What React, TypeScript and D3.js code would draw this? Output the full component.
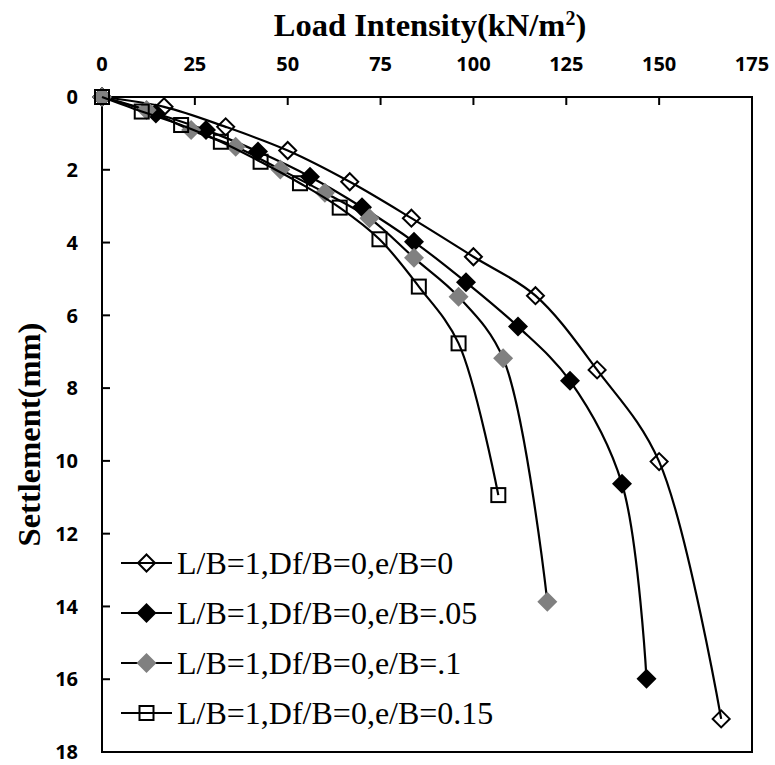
import React from 'react';
import * as d3 from 'd3';

const xTicks = [0, 25, 50, 75, 100, 125, 150, 175];
const yTicks = [0, 2, 4, 6, 8, 10, 12, 14, 16, 18];

const load1 = [0, 16.7, 33.3, 50, 66.7, 83.3, 100, 116.7, 133.3, 150, 166.7];
const settle1 = [0, 0.27, 0.82, 1.47, 2.33, 3.33, 4.39, 5.46, 7.5, 10.02, 17.09];
const load2 = [0, 14.5, 28, 42, 56, 70, 84, 98, 112, 126, 140, 146.6];
const settle2 = [0, 0.45, 0.91, 1.5, 2.19, 3.03, 3.98, 5.09, 6.31, 7.8, 10.63, 15.99];
const load3 = [0, 12, 24, 36, 48, 60, 72, 84, 96, 108, 119.9];
const settle3 = [0, 0.36, 0.91, 1.37, 1.99, 2.63, 3.33, 4.42, 5.49, 7.18, 13.87];
const load4 = [0, 10.7, 21.3, 32, 42.7, 53.3, 64, 74.7, 85.3, 96, 106.7];
const settle4 = [0, 0.4, 0.77, 1.23, 1.78, 2.37, 3.04, 3.91, 5.21, 6.77, 10.94];

const seriesNames = [
  'L/B=1,Df/B=0,e/B=0',
  'L/B=1,Df/B=0,e/B=.05',
  'L/B=1,Df/B=0,e/B=.1',
  'L/B=1,Df/B=0,e/B=0.15',
];

const markerTypes = ['openDiamond', 'blackDiamond', 'grayDiamond', 'openSquare'];

const left = 102, top = 97, right = 752, bottom = 752;

function Marker({ type, x, y }: { type: string; x: number; y: number }) {
  if (type === 'openSquare') {
    return <rect x={x - 7} y={y - 7} width={14} height={14} fill="none" stroke="#000" strokeWidth={2} />;
  }
  const r = type === 'openDiamond' ? 8.5 : 10;
  const d = `M${x},${y - r}L${x + r},${y}L${x},${y + r}L${x - r},${y}Z`;
  if (type === 'openDiamond') return <path d={d} fill="none" stroke="#000" strokeWidth={2} />;
  if (type === 'blackDiamond') return <path d={d} fill="#000" />;
  return <path d={d} fill="#808080" />;
}

const tickStyle: React.CSSProperties = { fontFamily: 'Open Sans, Liberation Sans, sans-serif', fontWeight: 700, fontSize: 20 };
const titleStyle: React.CSSProperties = { fontFamily: 'Liberation Serif, DejaVu Serif, serif', fontWeight: 700, fontSize: 32.5 };
const legendStyle: React.CSSProperties = { fontFamily: 'Liberation Serif, DejaVu Serif, serif', fontWeight: 400, fontSize: 32 };

export default function App() {
  const x = d3.scaleLinear().domain([0, 175]).range([left, right]);
  const y = d3.scaleLinear().domain([0, 18]).range([top, bottom]);
  const loads = [load1, load2, load3, load4];
  const settles = [settle1, settle2, settle3, settle4];
  const series = loads.map((ld, i) => ld.map((v, j) => [v, settles[i][j]] as [number, number]));
  const line = d3
    .line<[number, number]>()
    .x((d) => x(d[0]))
    .y((d) => y(d[1]))
    .curve(d3.curveCatmullRom.alpha(0.5));

  return (
    <svg width={775} height={765} style={{ position: 'absolute', left: 0, top: 0, background: '#fff' }}>
      <rect x={0} y={0} width={775} height={765} fill="#fff" />
      <rect x={left} y={top} width={right - left} height={bottom - top} fill="none" stroke="#000" strokeWidth={2} />
      {xTicks.map((t) => (
        <g key={'xt' + t}>
          <line x1={x(t)} x2={x(t)} y1={top} y2={top + 8} stroke="#000" strokeWidth={2} />
          <text x={x(t)} y={71} textAnchor="middle" style={tickStyle}>
            {t}
          </text>
        </g>
      ))}
      {yTicks.map((t) => (
        <g key={'yt' + t}>
          <line x1={left} x2={left + 8} y1={y(t)} y2={y(t)} stroke="#000" strokeWidth={2} />
          <text x={78} y={y(t)} dy="0.36em" textAnchor="end" style={tickStyle}>
            {t}
          </text>
        </g>
      ))}
      <text x={(left + right) / 2 + 3} y={36} textAnchor="middle" style={titleStyle}>
        Load Intensity(kN/m<tspan baselineShift="super" style={{ fontSize: 20 }}>2</tspan>)
      </text>
      <text
        transform={`translate(40,${(top + bottom) / 2 + 10}) rotate(-90)`}
        textAnchor="middle"
        style={titleStyle}
      >
        Settlement(mm)
      </text>
      {series.map((s, i) => (
        <g key={'s' + i}>
          <path d={line(s) || ''} fill="none" stroke="#000" strokeWidth={2.2} />
          {s.map((p, j) => (
            <Marker key={j} type={markerTypes[i]} x={x(p[0])} y={y(p[1])} />
          ))}
        </g>
      ))}
      {seriesNames.map((n, i) => {
        const ly = 563 + i * 50;
        return (
          <g key={'lg' + i}>
            <line x1={121} x2={172} y1={ly} y2={ly} stroke="#000" strokeWidth={2.2} />
            <Marker type={markerTypes[i]} x={146.5} y={ly} />
            <text x={177} y={ly} dy="0.35em" style={legendStyle}>
              {n}
            </text>
          </g>
        );
      })}
    </svg>
  );
}
